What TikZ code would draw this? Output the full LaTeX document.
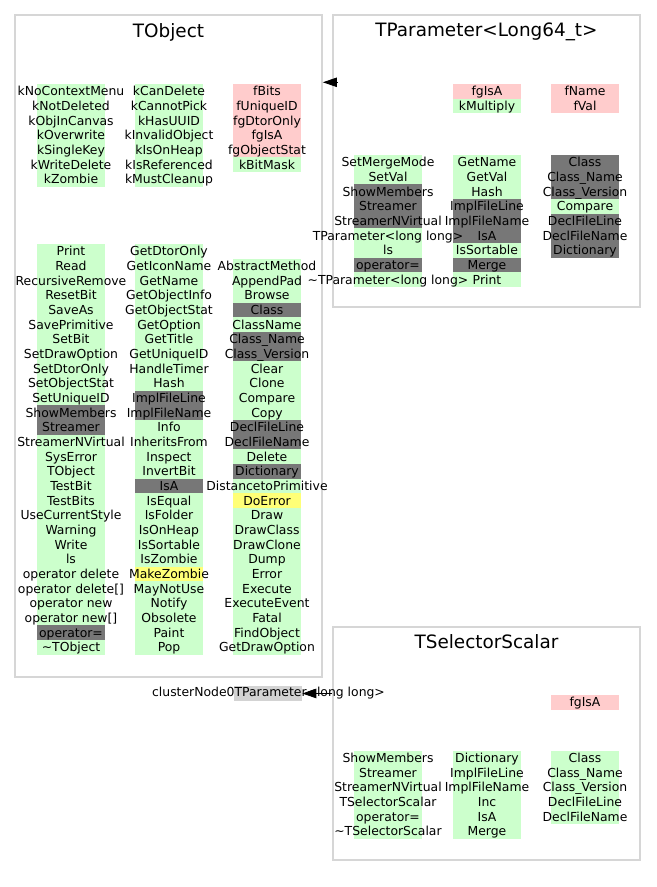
\documentclass[tikz,border=0pt]{standalone}
\usepackage{fontspec}
\setmainfont{DejaVu Sans}
\usetikzlibrary{fit,arrows.meta}
\definecolor{gn}{HTML}{CCFFCC}
\definecolor{rd}{HTML}{FFCCCC}
\definecolor{gy}{HTML}{777777}
\definecolor{yl}{HTML}{FFFF77}
\definecolor{lg}{HTML}{D3D3D3}
\definecolor{clb}{HTML}{D6D6D6}
\pgfdeclarelayer{bg}
\pgfsetlayers{bg,main}
\tikzset{
  txt/.style={inner sep=0, anchor=base, font=\fontsize{9.3}{11}\selectfont},
  ttl/.style={inner sep=0, anchor=base, font=\fontsize{13.8}{16}\selectfont},
  cluster/.style={draw=clb, line width=1.2pt, inner sep=0},
  inh/.style={-{Triangle[length=10.5pt,width=7pt]}, line width=0.75pt, black},
}
\newcommand{\cellcol}[4]{%
  \foreach \clr/\lbl [count=\i] in {#4} {
    \begin{pgfonlayer}{bg}
      \fill[\clr] ({#2}, {#3+(\i-1)*14.67}) rectangle ++(68,14.67);
    \end{pgfonlayer}
    \node[txt] (#1-\i) at ({#2+34}, {#3+(\i-0.5)*14.67+4.5}) {\lbl};
  }%
}
\begin{document}
\begin{tikzpicture}[x=0.75pt,y=-0.75pt]
\useasboundingbox (0,0) rectangle (656,887);

% clusters
\node[cluster, fit={(15,15) (322,677)}] (tobj) {};
\node[cluster, fit={(333,15) (640,307)}] (tpar) {};
\node[cluster, fit={(333,627) (640,860)}] (tsel) {};

\node[ttl] (tobj-title) at (168.5,37.3) {TObject};
\node[ttl] (tpar-title) at (486.5,37) {TParameter<Long64\_t>};
\node[ttl] (tsel-title) at (486.5,648.3) {TSelectorScalar};

% TObject data members
\cellcol{oe1}{37}{84}{gn/kNoContextMenu, gn/kNotDeleted, gn/kObjInCanvas, gn/kOverwrite, gn/kSingleKey, gn/kWriteDelete, gn/kZombie}
\cellcol{oe2}{135}{84}{gn/kCanDelete, gn/kCannotPick, gn/kHasUUID, gn/kInvalidObject, gn/kIsOnHeap, gn/kIsReferenced, gn/kMustCleanup}
\cellcol{oe3}{233}{84}{rd/fBits, rd/fUniqueID, rd/fgDtorOnly, rd/fgIsA, rd/fgObjectStat, gn/kBitMask}

% TObject methods
\cellcol{om1}{37}{244}{gn/Print, gn/Read, gn/RecursiveRemove, gn/ResetBit, gn/SaveAs, gn/SavePrimitive, gn/SetBit, gn/SetDrawOption, gn/SetDtorOnly, gn/SetObjectStat, gn/SetUniqueID, gy/ShowMembers, gy/Streamer, gn/StreamerNVirtual, gn/SysError, gn/TObject, gn/TestBit, gn/TestBits, gn/UseCurrentStyle, gn/Warning, gn/Write, gn/ls, gn/operator delete, gn/operator delete[], gn/operator new, gn/operator new[], gy/operator=, gn/\textasciitilde TObject}
\cellcol{om2}{135}{244}{gn/GetDtorOnly, gn/GetIconName, gn/GetName, gn/GetObjectInfo, gn/GetObjectStat, gn/GetOption, gn/GetTitle, gn/GetUniqueID, gn/HandleTimer, gn/Hash, gy/ImplFileLine, gy/ImplFileName, gn/Info, gn/InheritsFrom, gn/Inspect, gn/InvertBit, gy/IsA, gn/IsEqual, gn/IsFolder, gn/IsOnHeap, gn/IsSortable, gn/IsZombie, yl/MakeZombie, gn/MayNotUse, gn/Notify, gn/Obsolete, gn/Paint, gn/Pop}
\cellcol{om3}{233}{258.67}{gn/AbstractMethod, gn/AppendPad, gn/Browse, gy/Class, gn/ClassName, gy/Class\_Name, gy/Class\_Version, gn/Clear, gn/Clone, gn/Compare, gn/Copy, gy/DeclFileLine, gy/DeclFileName, gn/Delete, gy/Dictionary, gn/DistancetoPrimitive, yl/DoError, gn/Draw, gn/DrawClass, gn/DrawClone, gn/Dump, gn/Error, gn/Execute, gn/ExecuteEvent, gn/Fatal, gn/FindObject, gn/GetDrawOption}

% TParameter
\cellcol{pe2}{453}{84}{rd/fgIsA, gn/kMultiply}
\cellcol{pe3}{551}{84}{rd/fName, rd/fVal}
\cellcol{pm1}{354}{155}{gn/SetMergeMode, gn/SetVal, gy/ShowMembers, gy/Streamer, gy/StreamerNVirtual, gn/TParameter<long long>, gn/ls, gy/operator=, gn/\textasciitilde TParameter<long long>}
\cellcol{pm2}{453}{155}{gn/GetName, gn/GetVal, gn/Hash, gy/ImplFileLine, gy/ImplFileName, gy/IsA, gn/IsSortable, gy/Merge, gn/Print}
\cellcol{pm3}{551}{155}{gy/Class, gy/Class\_Name, gy/Class\_Version, gn/Compare, gy/DeclFileLine, gy/DeclFileName, gy/Dictionary}

% TSelectorScalar
\cellcol{se3}{551}{695}{rd/fgIsA}
\cellcol{sm1}{354}{750.7}{gn/ShowMembers, gn/Streamer, gn/StreamerNVirtual, gn/TSelectorScalar, gn/operator=, gn/\textasciitilde TSelectorScalar}
\cellcol{sm2}{453}{750.7}{gn/Dictionary, gn/ImplFileLine, gn/ImplFileName, gn/Inc, gn/IsA, gn/Merge}
\cellcol{sm3}{551}{750.7}{gn/Class, gn/Class\_Name, gn/Class\_Version, gn/DeclFileLine, gn/DeclFileName}

% external node
\begin{pgfonlayer}{bg}
\node[fill=lg, inner sep=0, minimum width=51pt, minimum height=11.25pt] (cn0) at (268,693.5) {};
\end{pgfonlayer}
\node[txt] (cn0-label) at (268.5,696.5) {clusterNode0TParameter<long long>};

% inheritance edges
\coordinate (e1s) at (336.7,82.3);
\draw[inh] (e1s) -- (tobj.east |- e1s);
\draw[inh] (tsel.west |- cn0) -- (cn0.east);
\end{tikzpicture}
\end{document}
